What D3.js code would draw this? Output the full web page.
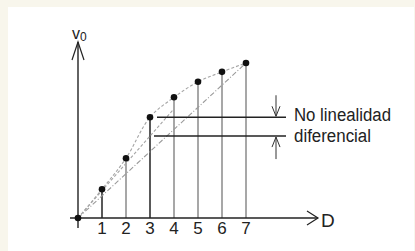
<!DOCTYPE html>
<html>
<head>
<meta charset="utf-8">
<script src="https://cdn.jsdelivr.net/npm/d3@7"></script>
<style>
  html, body { margin: 0; padding: 0; background: #f8f6ec; }
  svg { display: block; }
  text { font-family: "Liberation Sans", Arial, sans-serif; fill: #222; }
</style>
</head>
<body>
<svg id="chart" width="415" height="251"></svg>
<script>
// codes on the D axis and the measured output level v0 (in LSB)
const codes = [0, 1, 2, 3, 4, 5, 6, 7];
const levels = [0, 1.3, 2.7, 4.55, 5.45, 6.15, 6.6, 7];
const tickLabels = ["1", "2", "3", "4", "5", "6", "7"];
const darkStems = [1, 3];
// expected level of code 3 from code 2 plus one ideal step
const expectedLevel3 = levels[2] + 1;
const noteLines = ["No linealidad", "diferencial"];

const svg = d3.select("#chart");

// white panel
svg.append("rect")
  .attr("x", 8).attr("y", 7)
  .attr("width", 406).attr("height", 244)
  .attr("fill", "#ffffff");

const x = d3.scaleLinear().domain([0, 7]).range([78, 246]);
const y = d3.scaleLinear().domain([0, 7]).range([218, 63]);

const pts = codes.map((c, i) => ({ code: c, level: levels[i] }));

// =========================
// stems
// =========================
svg.selectAll(".stem")
  .data(pts.slice(1))
  .enter()
  .append("line")
  .attr("x1", d => x(d.code))
  .attr("x2", d => x(d.code))
  .attr("y1", y(0))
  .attr("y2", d => y(d.level))
  .attr("stroke", d => darkStems.includes(d.code) ? "#222" : "#8a8a8a")
  .attr("stroke-width", 1.5);

// =========================
// ideal straight line (0 -> full scale)
// =========================
svg.append("line")
  .attr("x1", x(0)).attr("y1", y(0))
  .attr("x2", x(7)).attr("y2", y(levels[7]))
  .attr("stroke", "#9a9a9a")
  .attr("stroke-width", 1.1)
  .attr("stroke-dasharray", "5,2,1,2");

// line from origin to expected level of code 3
const slopeExp = expectedLevel3 / 3;
svg.append("line")
  .attr("x1", x(0)).attr("y1", y(0))
  .attr("x2", x(4)).attr("y2", y(slopeExp * 4))
  .attr("stroke", "#a5a5a5")
  .attr("stroke-width", 1.1)
  .attr("stroke-dasharray", "3,2");

// =========================
// real transfer curve
// =========================
const curve = d3.line()
  .x(d => x(d.code))
  .y(d => y(d.level))
  .curve(d3.curveCatmullRom.alpha(0.5));

svg.append("path")
  .datum(pts)
  .attr("d", curve)
  .attr("fill", "none")
  .attr("stroke", "#a5a5a5")
  .attr("stroke-width", 1.1)
  .attr("stroke-dasharray", "3,2");

// =========================
// axes
// =========================
svg.append("line")
  .attr("x1", x(0)).attr("x2", x(0))
  .attr("y1", 228).attr("y2", 42)
  .attr("stroke", "#222").attr("stroke-width", 1.4);
svg.append("path")
  .attr("d", `M${x(0) - 6},60 L${x(0)},42 L${x(0) + 6},60`)
  .attr("fill", "none").attr("stroke", "#222").attr("stroke-width", 1.2);

svg.append("line")
  .attr("x1", 70).attr("x2", 318)
  .attr("y1", y(0)).attr("y2", y(0))
  .attr("stroke", "#222").attr("stroke-width", 1.4);
svg.append("path")
  .attr("d", `M307,${y(0) - 7} L318,${y(0)} L307,${y(0) + 7}`)
  .attr("fill", "none").attr("stroke", "#222").attr("stroke-width", 1.2);

// tick labels
svg.selectAll(".tick-label")
  .data(tickLabels)
  .enter()
  .append("text")
  .attr("x", (d, i) => x(i + 1))
  .attr("y", 234)
  .attr("text-anchor", "middle")
  .style("font-size", "17px")
  .text(d => d);

svg.append("text")
  .attr("x", 321).attr("y", 227)
  .style("font-size", "19px")
  .text("D");

const vLabel = svg.append("text")
  .attr("x", 72).attr("y", 39)
  .style("font-size", "16px");
vLabel.append("tspan").text("v");
vLabel.append("tspan").attr("dy", 2).style("font-size", "12px").text("0");

// =========================
// points
// =========================
svg.selectAll(".dot")
  .data(pts)
  .enter()
  .append("circle")
  .attr("cx", d => x(d.code))
  .attr("cy", d => y(d.level))
  .attr("r", 3.3)
  .attr("fill", "#111");

// =========================
// DNL annotation
// =========================
svg.append("line")
  .attr("x1", x(3) + 7).attr("x2", 286)
  .attr("y1", y(levels[3])).attr("y2", y(levels[3]))
  .attr("stroke", "#222").attr("stroke-width", 1.4);
svg.append("line")
  .attr("x1", x(3) + 4).attr("x2", 286)
  .attr("y1", y(expectedLevel3)).attr("y2", y(expectedLevel3))
  .attr("stroke", "#222").attr("stroke-width", 1.4);

const ax = 276;
const yTop = y(levels[3]);
const yBot = y(expectedLevel3);
svg.append("line")
  .attr("x1", ax).attr("x2", ax).attr("y1", yTop - 22).attr("y2", yTop - 1)
  .attr("stroke", "#333").attr("stroke-width", 1);
svg.append("path")
  .attr("d", `M${ax - 4},${yTop - 11} L${ax},${yTop - 1} L${ax + 4},${yTop - 11}`)
  .attr("fill", "none").attr("stroke", "#333").attr("stroke-width", 1);
svg.append("line")
  .attr("x1", ax).attr("x2", ax).attr("y1", yBot + 1).attr("y2", yBot + 23)
  .attr("stroke", "#333").attr("stroke-width", 1);
svg.append("path")
  .attr("d", `M${ax - 4},${yBot + 11} L${ax},${yBot + 1} L${ax + 4},${yBot + 11}`)
  .attr("fill", "none").attr("stroke", "#333").attr("stroke-width", 1);

svg.selectAll(".note")
  .data(noteLines)
  .enter()
  .append("text")
  .attr("x", 294)
  .attr("y", (d, i) => 121 + i * 21)
  .style("font-size", "18px")
  .attr("textLength", (d, i) => i === 0 ? 97 : 77)
  .attr("lengthAdjust", "spacingAndGlyphs")
  .text(d => d);
</script>
</body>
</html>
